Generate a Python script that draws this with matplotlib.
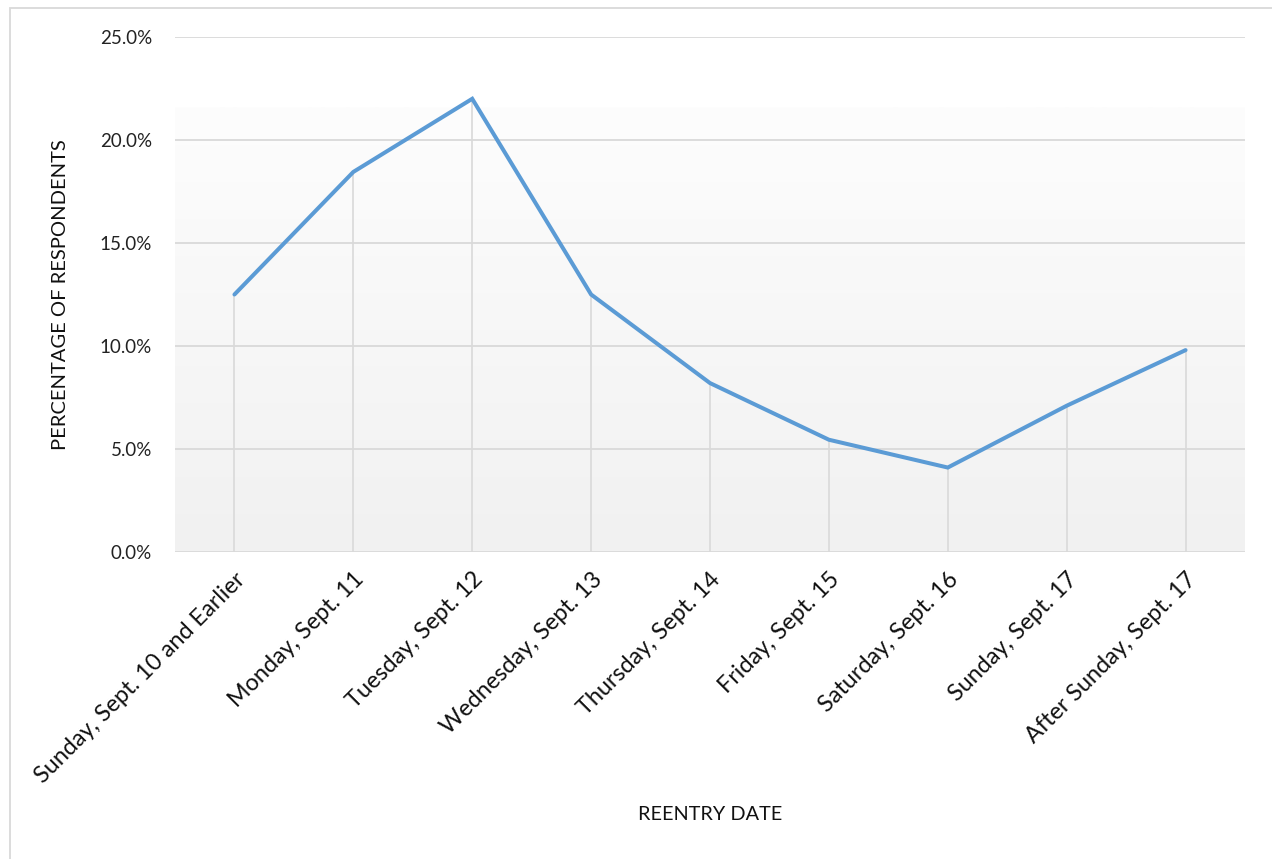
import matplotlib
matplotlib.use("Agg")
import matplotlib.pyplot as plt
import numpy as np
from matplotlib.patches import Rectangle
from matplotlib.colors import LinearSegmentedColormap

categories = ["Sunday, Sept. 10 and Earlier", "Monday, Sept. 11", "Tuesday, Sept. 12",
              "Wednesday, Sept. 13", "Thursday, Sept. 14", "Friday, Sept. 15",
              "Saturday, Sept. 16", "Sunday, Sept. 17", "After Sunday, Sept. 17"]
values = [12.5, 18.45, 22.0, 12.5, 8.2, 5.45, 4.1, 7.1, 9.8]
yticks = [0, 5, 10, 15, 20, 25]

plt.rcParams['font.family'] = ['Lato', 'DejaVu Sans']

fig = plt.figure(figsize=(12.72, 8.59), dpi=100)
fig.patch.set_facecolor('white')
ax = fig.add_axes([175/1272, 1-552/859, (1245-175)/1272, (552-37)/859])
ax.set_facecolor('white')

x = np.arange(len(categories))

# gradient background
grad = np.linspace(0, 1, 256).reshape(-1, 1)
cmap = LinearSegmentedColormap.from_list('g', ['#f1f1f1', '#fdfdfd'])
ax.imshow(grad, extent=(-0.5, len(categories)-0.5, 0, 21.6), origin='lower',
          aspect='auto', cmap=cmap, zorder=0)
ax.set_xlim(-0.5, len(categories)-0.5)
ax.set_ylim(0, 25)

for yv in yticks:
    ax.axhline(yv, color='#d9d9d9', lw=1.3, zorder=1)

ax.vlines(x, 0, values, color='#d9d9d9', lw=1.2, zorder=2)
ax.plot(x, values, color='#5b9bd5', lw=2.9, zorder=3, solid_capstyle='round', solid_joinstyle='miter')

for s in ax.spines.values():
    s.set_visible(False)

ax.set_yticks(yticks)
ax.set_yticklabels([f"{v:.1f}%" for v in yticks], fontsize=13.5, color='#222222')
ax.set_xticks(x)
ax.set_xticklabels(categories, rotation=45, ha='right', va='top', rotation_mode='anchor',
                   fontsize=16.8, color='#111111')
ax.tick_params(axis='x', length=0, pad=12)
ax.tick_params(axis='y', length=0, pad=16.5)

fig.text(60/1272, 1-295/859, "PERCENTAGE OF RESPONDENTS", rotation=90, ha='center', va='center',
         fontsize=14.5, color='#111111')
fig.text(710/1272, 1-815/859, "REENTRY DATE", ha='center', va='center', fontsize=14.3, color='#111111')

# outer frame
fig.patches.append(Rectangle((10/1272, -0.05), 1.1, (859-8)/859 + 0.05, transform=fig.transFigure,
                             fill=False, edgecolor='#d9d9d9', lw=1.3))

fig.savefig("out.png", dpi=100, facecolor='white')
